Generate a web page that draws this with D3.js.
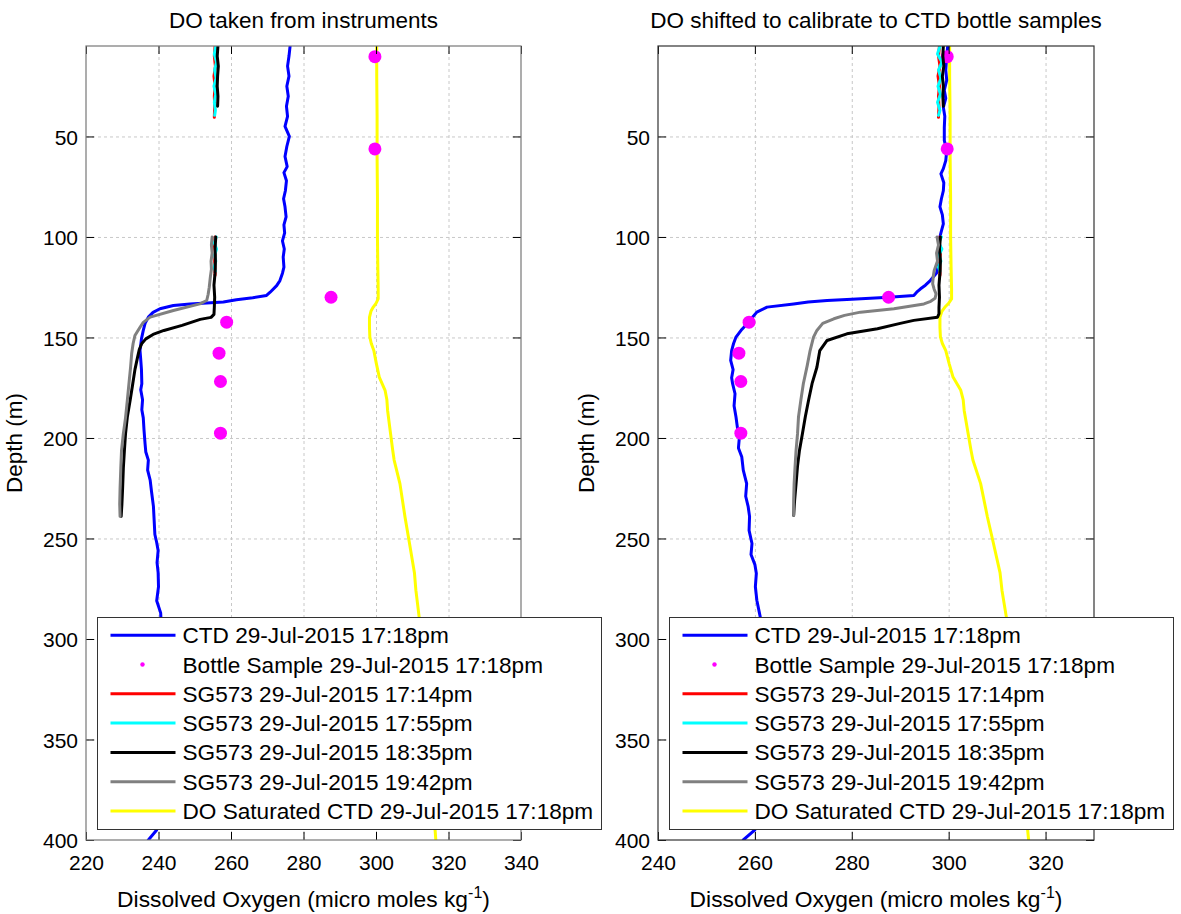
<!DOCTYPE html>
<html>
<head>
<meta charset="utf-8">
<script src="https://cdn.jsdelivr.net/npm/d3@7"></script>
<style>
  body { margin: 0; background: #fff; }
  svg { display: block; font-family: "Liberation Sans", Arial, Helvetica, sans-serif; }
</style>
</head>
<body>
<svg id="chart" width="1181" height="914"></svg>
<script>
// ---- data (depth in m, dissolved oxygen in micro moles/kg) ----
const ctdRawDepth = [5, 10, 15, 20, 25, 30, 35, 40, 45, 50, 55, 60, 65, 68, 72, 77, 81, 85, 90, 94, 98, 102, 106, 110, 115, 118,
  121.7, 124.2, 127.5, 129.1, 130.2, 131.2, 132.4, 133.3, 134.1, 135.7, 137.5, 139.9, 143, 146.5, 150.7, 156.5, 161, 166, 173, 176,
  181, 186, 190, 196, 203, 207, 211, 216, 221, 227, 234, 241, 248, 252, 256, 262, 267, 274, 281, 287, 295, 310, 330, 350, 370, 385, 395, 400];
const ctdRawDO = [276.3, 276.0, 275.6, 276.0, 275.4, 275.8, 275.3, 275.6, 274.9, 276.1, 275.4, 274.9, 275.5, 274.6, 275.3, 275.0, 274.5, 274.9, 275.2, 274.6, 274.8, 274.2, 274.7, 274.4, 274.6, 274.2,
  273.5, 272.6, 270.8, 269.8, 266.0, 261.5, 257.9, 248.7, 244.1, 240.4, 238.5, 237.2, 236.3, 235.8, 235.3, 234.9, 235.1, 235.3, 235.4, 235.1,
  235.6, 235.4, 235.8, 236.0, 236.3, 236.5, 237.2, 237.0, 237.7, 238.1, 238.6, 238.8, 239.0, 239.5, 239.9, 239.6, 239.9, 240.0, 239.5, 240.6, 240.8, 241.0, 240.6, 240.5, 240.2, 240.0, 239.5, 237.2];

const ctdCalDepth = [5, 10, 17, 22, 27, 31, 35.5, 40, 45.5, 52, 57, 62, 66, 68.6, 73, 77, 81, 85, 89, 93.5, 98, 102, 106, 110, 114, 118,
  121.7, 124, 125.8, 127.5, 129.1, 130, 131, 131.6, 132.4, 133.3, 134.9, 137.4, 139.9, 142.4, 146, 149.8, 153, 156.5, 161.4, 166, 170, 173,
  178, 184, 189.6, 195, 199.6, 205, 209.5, 216, 222.7, 229, 234, 239, 246, 252.5, 258, 263, 267.4, 274, 280.7, 289, 300, 320, 340, 360, 380, 395, 400];
const ctdCalDO = [299.8, 299.6, 299.4, 299.6, 299.1, 299.4, 298.9, 299.2, 299.1, 299.1, 299.6, 299.4, 298.9, 298.4, 299.0, 298.9, 298.5, 298.2, 298.7, 298.9, 298.4, 298.0, 298.3, 298.0, 297.8, 297.5,
  296.2, 295.2, 294.2, 293.4, 292.8, 287.7, 280.0, 274.9, 271.0, 268.0, 262.5, 260.4, 259.5, 258.7, 257.3, 256.1, 255.6, 255.2, 255.0, 255.5, 255.2, 255.4,
  255.9, 255.7, 256.1, 256.4, 256.8, 256.6, 257.3, 257.6, 258.3, 258.1, 258.6, 258.9, 258.8, 259.4, 259.2, 260.0, 260.3, 260.1, 260.4, 261.1, 261.2, 261.0, 260.9, 260.8, 260.6, 260.0, 257.6];

const bottleDepth = [10.3, 56.2, 130.0, 142.4, 157.8, 171.9, 197.6];
const bottleDO = [299.7, 299.7, 287.6, 258.8, 256.7, 257.1, 257.1];

// glider profiles, null marks a gap between dive segments
const sg1714Depth = [5, 10, 15, 20, 25, 30, 35, 40.5, null, 100, 104, 108, 112, 116, 119];
const sg1714Raw = [255.6, 255.4, 255.7, 255.3, 255.6, 255.4, 255.5, 255.4, null, 255.6, 255.4, 255.7, 255.5, 255.6, 255.6];
const sg1714Cal = [298.1, 297.9, 298.2, 297.8, 298.1, 297.9, 298.0, 297.9, null, 298.2, 298.0, 298.3, 298.1, 298.2, 298.2];

const sg1755Depth = [5, 9, 13, 17, 21, 25, 29, 33, 37, 39.5, null, 100, 103, 106, 109, 112, 115, 117];
const sg1755Raw = [255.8, 255.4, 256.0, 255.5, 255.9, 255.3, 255.8, 255.4, 255.7, 255.5, null, 255.9, 255.4, 256.0, 255.5, 255.8, 255.4, 255.7];
const sg1755Cal = [298.2, 297.7, 298.6, 297.9, 298.4, 297.8, 298.3, 297.7, 298.2, 297.9, null, 298.5, 297.9, 298.6, 298.0, 298.4, 297.9, 298.2];

const sg1835RawDepth = [5, 10, 15, 20, 25, 30, 35, null, 100, 106, 112, 118, 124, 130, 135, 138.5, 140, 141, 142.5, 144, 146.5, 148.5, 150.7, 153, 156, 160, 166, 173, 181, 189.6, 198, 206, 215, 225, 233, 239];
const sg1835Raw = [256.4, 256.2, 256.5, 256.3, 256.2, 256.4, 256.3, null, 255.8, 255.6, 255.7, 255.6, 255.3, 255.5, 255.4, 255.3, 254.5, 251.5, 249.0, 246.5, 241.5, 238.5, 236.5, 235.4, 234.7, 234.2, 233.5, 232.9, 232.2, 231.4, 230.9, 230.6, 230.3, 230.1, 229.9, 229.7];
const sg1835CalDepth = [5, 10, 15, 20, 25, 30, 35, null, 100, 106, 112, 118, 124, 130, 135, 138.2, 139.9, 141.5, 143, 145.7, 148.2, 151.5, 156.5, 164.8, 173, 181, 189.6, 198, 206.2, 214, 222.7, 231, 238.5];
const sg1835Cal = [298.9, 298.8, 299.0, 298.7, 298.9, 298.8, 298.9, null, 298.3, 298.1, 298.3, 298.2, 298.0, 298.1, 298.0, 298.0, 297.7, 292.8, 290.0, 285.3, 279.0, 274.9, 273.4, 272.8, 271.8, 271.1, 270.4, 269.8, 269.2, 268.8, 268.5, 268.2, 268.0];

const sg1942RawDepth = [100, 104, 108, 112, 116, 120, 125, 128.5, 131.6, 133.3, 136.6, 139.9, 142.5, 144.9, 149, 153, 158, 164.8, 172, 181.3, 190, 197.9, 206.2, 215, 225, 233, 239];
const sg1942Raw = [254.8, 254.6, 254.8, 254.5, 254.6, 254.3, 254.0, 253.7, 253.3, 251.4, 244.1, 237.7, 235.8, 234.9, 233.5, 233.0, 232.6, 232.3, 231.9, 231.4, 230.9, 230.3, 229.8, 229.6, 229.4, 229.3, 229.4];
const sg1942CalDepth = [100, 104, 108, 112, 116.8, 120, 123.3, 126, 128.3, 130.5, 132, 133.3, 135.7, 137.4, 139, 140.7, 143, 146.5, 149.8, 156.5, 164, 173, 181, 189.6, 198, 206.2, 214, 222.7, 231, 238.5];
const sg1942Cal = [297.6, 297.9, 297.5, 297.7, 297.0, 296.8, 296.7, 297.0, 297.4, 297.2, 296.3, 294.9, 288.7, 281.8, 278.5, 276.3, 274.0, 272.8, 272.1, 271.4, 270.8, 270.0, 269.5, 269.0, 268.8, 268.5, 268.3, 268.1, 268.0, 268.0];

const satDepth = [5, 20, 40, 60, 80, 100, 115, 126, 130.8, 133, 135, 137, 140, 145, 149.8, 153, 156.5, 163, 169.7, 176.3, 181, 186.3, 196.2, 206,
  211, 222.7, 239.3, 252, 267, 275.7, 289, 300, 320, 340, 360, 380, 395, 400];
const satDO = [300.2, 300.2, 300.3, 300.3, 300.4, 300.4, 300.5, 300.6, 300.6, 300.0, 299.2, 298.6, 298.2, 298.2, 298.3, 298.7, 299.4, 300.1, 300.9, 302.5, 303.0, 303.2, 303.9, 304.6,
  305.0, 306.6, 308.0, 309.2, 310.6, 311.0, 311.9, 312.4, 313.4, 314.3, 315.1, 315.8, 316.3, 316.5];

const depthTicks = [50, 100, 150, 200, 250, 300, 350, 400];
const legendLabels = [
  'CTD 29-Jul-2015 17:18pm',
  'Bottle Sample 29-Jul-2015 17:18pm',
  'SG573 29-Jul-2015 17:14pm',
  'SG573 29-Jul-2015 17:55pm',
  'SG573 29-Jul-2015 18:35pm',
  'SG573 29-Jul-2015 19:42pm',
  'DO Saturated CTD 29-Jul-2015 17:18pm'
];
const colors = ['#0000ff', '#ff00ff', '#ff0000', '#00ffff', '#000000', '#808080', '#ffff00'];

const svg = d3.select('#chart');
svg.append('rect').attr('width', 1181).attr('height', 914).attr('fill', '#fff');

const plotTop = 46, plotBottom = 840;

const panels = [
  {
    id: 'raw',
    title: 'DO taken from instruments',
    left: 86, right: 521,
    domain: [220, 340],
    xTicks: [220, 240, 260, 280, 300, 320, 340],
    boxColor: '#777',
    series: [
      { depth: satDepth, val: satDO, color: colors[6] },
      { depth: ctdRawDepth, val: ctdRawDO, color: colors[0] },
      { bottles: true },
      { depth: sg1714Depth, val: sg1714Raw, color: colors[2] },
      { depth: sg1755Depth, val: sg1755Raw, color: colors[3] },
      { depth: sg1835RawDepth, val: sg1835Raw, color: colors[4] },
      { depth: sg1942RawDepth, val: sg1942Raw, color: colors[5] }
    ]
  },
  {
    id: 'cal',
    title: 'DO shifted to calibrate to CTD bottle samples',
    left: 658, right: 1094,
    domain: [240, 330],
    xTicks: [240, 260, 280, 300, 320],
    boxColor: '#333',
    series: [
      { depth: satDepth, val: satDO, color: colors[6] },
      { depth: ctdCalDepth, val: ctdCalDO, color: colors[0] },
      { bottles: true },
      { depth: sg1714Depth, val: sg1714Cal, color: colors[2] },
      { depth: sg1755Depth, val: sg1755Cal, color: colors[3] },
      { depth: sg1835CalDepth, val: sg1835Cal, color: colors[4] },
      { depth: sg1942CalDepth, val: sg1942Cal, color: colors[5] }
    ]
  }
];

const y = d3.scaleLinear().domain([5, 400]).range([plotTop, plotBottom]);

panels.forEach(p => {
  const x = d3.scaleLinear().domain(p.domain).range([p.left, p.right]);
  const g = svg.append('g');
  const w = p.right - p.left, h = plotBottom - plotTop;

  // Grid
  const gx = g.append('g')
    .attr('transform', `translate(0,${plotBottom})`)
    .call(d3.axisBottom(x).tickValues(p.xTicks.filter(t => t > p.domain[0] && t < p.domain[1]))
      .tickSize(-h).tickFormat(''));
  const gy = g.append('g')
    .attr('transform', `translate(${p.left},0)`)
    .call(d3.axisLeft(y).tickValues(depthTicks.filter(t => t < 400)).tickSize(-w).tickFormat(''));
  [gx, gy].forEach(a => {
    a.select('.domain').remove();
    a.selectAll('line').attr('stroke', '#c8c8c8').attr('stroke-width', 1).attr('stroke-dasharray', '3,3');
  });

  // Data
  g.append('clipPath').attr('id', 'clip-' + p.id)
    .append('rect').attr('x', p.left).attr('y', plotTop).attr('width', w).attr('height', h);
  const data = g.append('g').attr('clip-path', `url(#clip-${p.id})`);
  const line = d3.line()
    .defined(d => d[0] != null)
    .x(d => x(d[1]))
    .y(d => y(d[0]));

  p.series.forEach(s => {
    if (s.bottles) {
      data.selectAll('circle.bottle')
        .data(d3.zip(bottleDepth, bottleDO))
        .join('circle')
        .attr('class', 'bottle')
        .attr('cx', d => x(d[1]))
        .attr('cy', d => y(d[0]))
        .attr('r', 6.5)
        .attr('fill', colors[1]);
      return;
    }
    data.append('path')
      .datum(d3.zip(s.depth, s.val))
      .attr('fill', 'none')
      .attr('stroke', s.color)
      .attr('stroke-width', 3)
      .attr('stroke-linejoin', 'round')
      .attr('stroke-linecap', 'round')
      .attr('d', line);
  });

  // Axes (ticks inward, MATLAB style box)
  const tickLen = 8;
  const axB = g.append('g').attr('transform', `translate(0,${plotBottom})`)
    .call(d3.axisBottom(x).tickValues(p.xTicks).tickSizeInner(-tickLen).tickSizeOuter(0).tickPadding(15));
  const axT = g.append('g').attr('transform', `translate(0,${plotTop})`)
    .call(d3.axisTop(x).tickValues(p.xTicks).tickSizeInner(-tickLen).tickSizeOuter(0).tickFormat(''));
  const axL = g.append('g').attr('transform', `translate(${p.left},0)`)
    .call(d3.axisLeft(y).tickValues(depthTicks).tickSizeInner(-tickLen).tickSizeOuter(0).tickPadding(8));
  const axR = g.append('g').attr('transform', `translate(${p.right},0)`)
    .call(d3.axisRight(y).tickValues(depthTicks).tickSizeInner(-tickLen).tickSizeOuter(0).tickFormat(''));
  [axB, axT, axL, axR].forEach(a => {
    a.select('.domain').remove();
    a.selectAll('line').attr('stroke', '#000').attr('stroke-width', 1);
    a.selectAll('text').attr('font-size', 21).attr('fill', '#000')
      .style('font-family', '"Liberation Sans", Arial, Helvetica, sans-serif');
  });
  axL.selectAll('text').attr('dy', '0.36em');

  g.append('rect')
    .attr('x', p.left).attr('y', plotTop).attr('width', w).attr('height', h)
    .attr('fill', 'none').attr('stroke', p.boxColor).attr('stroke-width', 1.2);

  // Titles and labels
  const cx = (p.left + p.right) / 2;
  g.append('text')
    .attr('x', cx).attr('y', 28)
    .attr('text-anchor', 'middle')
    .attr('font-size', 22.5)
    .text(p.title);

  const xl = g.append('text')
    .attr('x', cx).attr('y', 907)
    .attr('text-anchor', 'middle')
    .attr('font-size', 22.8);
  xl.append('tspan').text('Dissolved Oxygen (micro moles kg');
  xl.append('tspan').attr('dy', -9).attr('font-size', 16).text('-1');
  xl.append('tspan').attr('dy', 9).text(')');

  g.append('text')
    .attr('transform', `translate(${p.left - 64},${(plotTop + plotBottom) / 2}) rotate(-90)`)
    .attr('text-anchor', 'middle')
    .attr('font-size', 22.5)
    .text('Depth (m)');

  // Legend
  const lx = p.left + 11.5, ly = 617.5;
  const lg = g.append('g').attr('transform', `translate(${lx},${ly})`);
  lg.append('rect')
    .attr('width', 504).attr('height', 212)
    .attr('fill', '#fff').attr('stroke', '#333').attr('stroke-width', 1);
  legendLabels.forEach((label, i) => {
    const ry = 17.7 + i * 29.3;
    if (i === 1) {
      lg.append('circle').attr('cx', 45).attr('cy', ry).attr('r', 2.2).attr('fill', colors[1]);
    } else {
      lg.append('line')
        .attr('x1', 13).attr('x2', 78).attr('y1', ry).attr('y2', ry)
        .attr('stroke', colors[i]).attr('stroke-width', 3);
    }
    lg.append('text')
      .attr('x', 85).attr('y', ry + 8)
      .attr('font-size', 22.6)
      .text(label);
  });
});
</script>
</body>
</html>
